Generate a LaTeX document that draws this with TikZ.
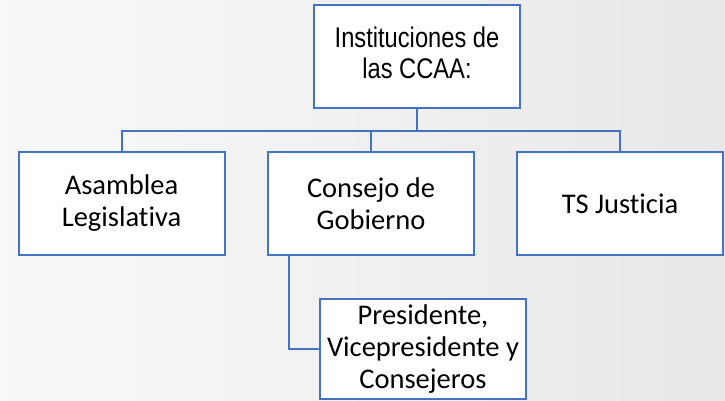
\documentclass[tikz,border=0pt]{standalone}
\usepackage{fontspec}
\setmainfont{Carlito}[Ligatures=NoCommon]
\newfontfamily\arialfont{Liberation Sans}
\usepackage{graphicx}
\usetikzlibrary{positioning}
\definecolor{boxblue}{HTML}{4472C4}
% the root label is set narrow and tall
\newcommand{\tallcell}[1]{\scalebox{1}[1.2]{\begin{tabular}{@{}c@{}}#1\end{tabular}}}
\tikzset{
  orgbox/.style={
    rectangle, draw=boxblue, line width=2pt, fill=white,
    align=center, minimum width=206pt, minimum height=103pt,
    inner sep=0pt, font=\fontsize{28.5}{32}\selectfont
  },
  rootbox/.style={
    orgbox, font=\arialfont\fontsize{23.7}{26}\selectfont
  },
  conn/.style={draw=boxblue, line width=2pt},
}

\begin{document}
\begin{tikzpicture}[x=1pt, y=-1pt]

  % ── background ────────────────────────────────────────────────────────────
  \shade[left color=gray!5, right color=gray!18] (0,0) rectangle (725,401);
  \useasboundingbox (0,0) rectangle (725,401);

  % ── nodes ─────────────────────────────────────────────────────────────────
  \node[rootbox] (ccaa) at (417,56.5)  {\tallcell{Instituciones de\\las CCAA:}};
  \node[orgbox]  (asam) at (121.5,203.5) {Asamblea\\Legislativa};
  \node[orgbox]  (cons) at (371,203.5)   {Consejo de\\Gobierno};
  \node[orgbox]  (tsj)  at (620,203.5)   {TS Justicia};
  \node[orgbox, minimum height=100pt] (pres) at (423,349)
    {Presidente,\\Vicepresidente y\\Consejeros};

  \coordinate (bus) at (0,131);

  % ── edges ─────────────────────────────────────────────────────────────────
  \draw[conn] (ccaa.south) -- (ccaa.south |- bus);
  \draw[conn] (asam.north) |- (bus -| tsj.north) -- (tsj.north);
  \draw[conn] (cons.north) -- (cons.north |- bus);
  \draw[conn] ([xshift=-82pt]cons.south) |- (pres.west);

\end{tikzpicture}
\end{document}
